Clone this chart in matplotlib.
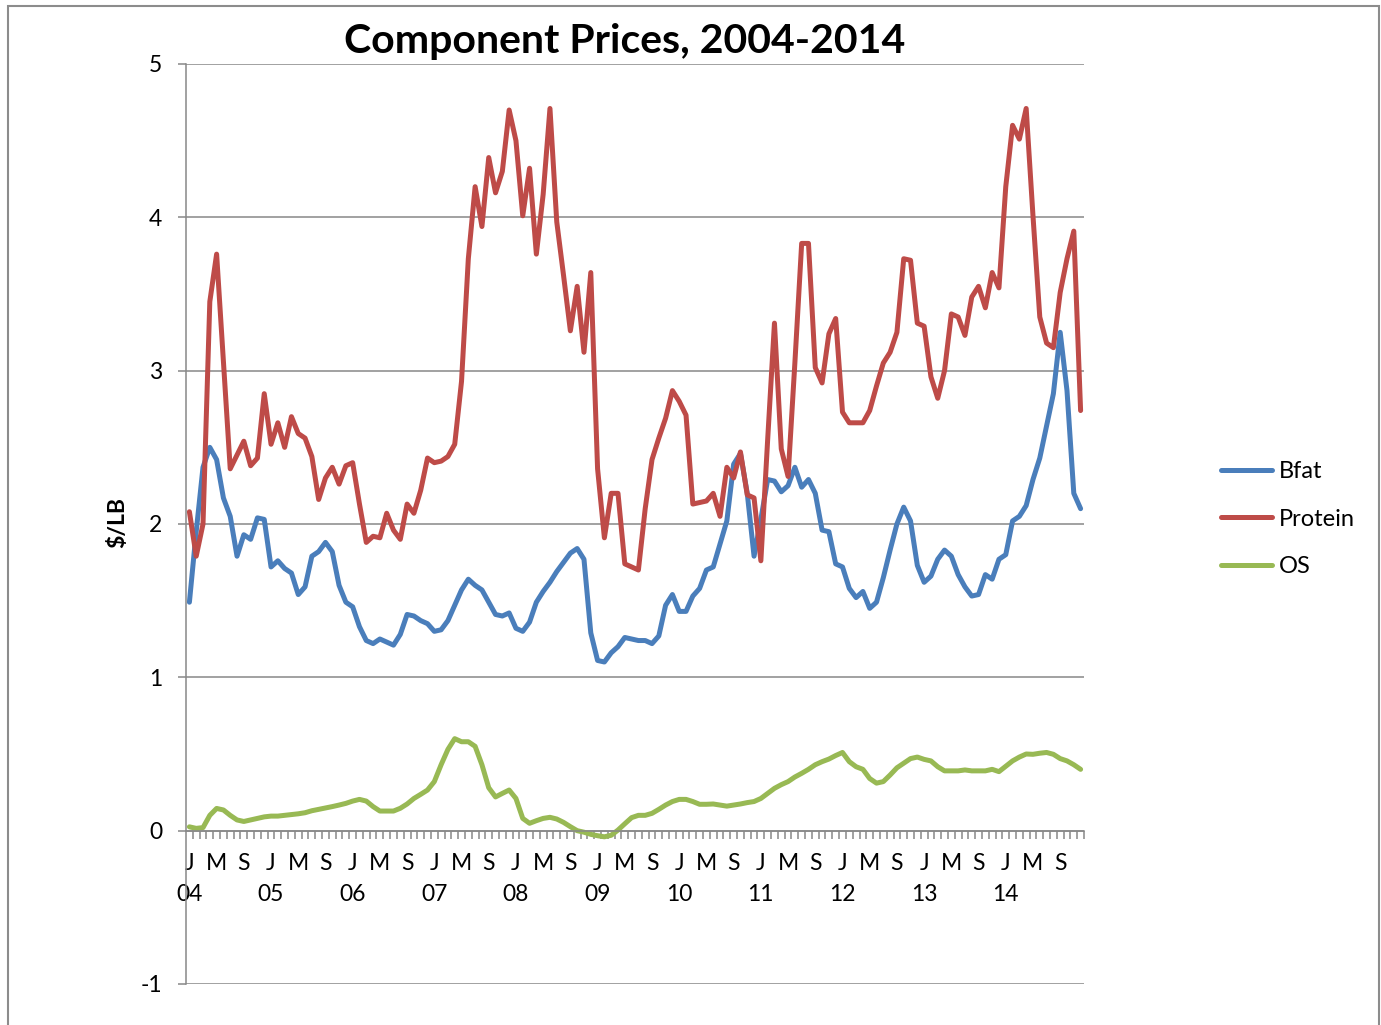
import numpy as np
import matplotlib
matplotlib.use("Agg")
import matplotlib.pyplot as plt
from matplotlib.patches import Rectangle

plt.rcParams['font.family'] = ['Lato', 'DejaVu Sans']
plt.rcParams['axes.unicode_minus'] = False

# ---- data (monthly, Jan 2004 - Dec 2014) ----
years = ["04", "05", "06", "07", "08", "09", "10", "11", "12", "13", "14"]
month_letters = ["J", "M", "S"]

bfat = [
    1.49, 1.95, 2.37, 2.50, 2.42, 2.17, 2.05, 1.79, 1.93, 1.90, 2.04, 2.03,
    1.72, 1.76, 1.71, 1.68, 1.54, 1.59, 1.79, 1.82, 1.88, 1.82, 1.60, 1.49,
    1.46, 1.33, 1.24, 1.22, 1.25, 1.23, 1.21, 1.28, 1.41, 1.40, 1.37, 1.35,
    1.30, 1.31, 1.37, 1.47, 1.57, 1.64, 1.60, 1.57, 1.49, 1.41, 1.40, 1.42,
    1.32, 1.30, 1.36, 1.49, 1.56, 1.62, 1.69, 1.75, 1.81, 1.84, 1.77, 1.29,
    1.11, 1.10, 1.16, 1.20, 1.26, 1.25, 1.24, 1.24, 1.22, 1.27, 1.47, 1.54,
    1.43, 1.43, 1.53, 1.58, 1.70, 1.72, 1.87, 2.02, 2.39, 2.46, 2.20, 1.79,
    2.03, 2.29, 2.28, 2.21, 2.25, 2.37, 2.24, 2.29, 2.20, 1.96, 1.95, 1.74,
    1.72, 1.58, 1.52, 1.56, 1.45, 1.49, 1.65, 1.83, 2.00, 2.11, 2.02, 1.73,
    1.62, 1.66, 1.77, 1.83, 1.79, 1.67, 1.59, 1.53, 1.54, 1.67, 1.64, 1.77,
    1.80, 2.02, 2.05, 2.12, 2.29, 2.43, 2.64, 2.85, 3.25, 2.87, 2.20, 2.10,
]

protein = [
    2.08, 1.79, 2.00, 3.45, 3.76, 3.06, 2.36, 2.45, 2.54, 2.38, 2.43, 2.85,
    2.52, 2.66, 2.50, 2.70, 2.59, 2.56, 2.44, 2.16, 2.30, 2.37, 2.26, 2.38,
    2.40, 2.13, 1.88, 1.92, 1.91, 2.07, 1.96, 1.90, 2.13, 2.07, 2.22, 2.43,
    2.40, 2.41, 2.44, 2.52, 2.93, 3.73, 4.20, 3.94, 4.39, 4.16, 4.30, 4.70,
    4.50, 4.01, 4.32, 3.76, 4.15, 4.71, 3.97, 3.62, 3.26, 3.55, 3.12, 3.64,
    2.36, 1.91, 2.20, 2.20, 1.74, 1.72, 1.70, 2.10, 2.42, 2.56, 2.69, 2.87,
    2.80, 2.71, 2.13, 2.14, 2.15, 2.20, 2.05, 2.37, 2.30, 2.47, 2.19, 2.17,
    1.76, 2.55, 3.31, 2.49, 2.31, 3.05, 3.83, 3.83, 3.02, 2.92, 3.24, 3.34,
    2.73, 2.66, 2.66, 2.66, 2.74, 2.90, 3.05, 3.12, 3.25, 3.73, 3.72, 3.31,
    3.29, 2.96, 2.82, 3.00, 3.37, 3.35, 3.23, 3.48, 3.55, 3.41, 3.64, 3.54,
    4.20, 4.60, 4.51, 4.71, 4.01, 3.35, 3.18, 3.15, 3.51, 3.73, 3.91, 2.74,
]

os_vals = [
    0.025, 0.015, 0.02, 0.10, 0.145, 0.135, 0.10, 0.07, 0.06, 0.07, 0.08, 0.09,
    0.095, 0.095, 0.10, 0.105, 0.11, 0.117, 0.13, 0.139, 0.148, 0.157, 0.167, 0.178,
    0.193, 0.204, 0.193, 0.157, 0.128, 0.128, 0.128, 0.146, 0.174, 0.21, 0.237, 0.265,
    0.32, 0.43, 0.53, 0.60, 0.58, 0.58, 0.55, 0.43, 0.28, 0.22, 0.243, 0.265,
    0.21, 0.08, 0.048, 0.065, 0.08, 0.087, 0.076, 0.054, 0.026, 0.0, -0.01, -0.024,
    -0.033, -0.04, -0.03, 0.004, 0.045, 0.085, 0.10, 0.10, 0.113, 0.139, 0.167, 0.19,
    0.204, 0.204, 0.19, 0.172, 0.172, 0.174, 0.167, 0.16, 0.167, 0.174, 0.183, 0.19,
    0.21, 0.243, 0.276, 0.30, 0.32, 0.35, 0.374, 0.40, 0.43, 0.45, 0.467, 0.49,
    0.51, 0.45, 0.417, 0.40, 0.34, 0.31, 0.32, 0.363, 0.41, 0.44, 0.47, 0.48,
    0.465, 0.455, 0.417, 0.39, 0.39, 0.39, 0.396, 0.39, 0.39, 0.39, 0.40, 0.385,
    0.42, 0.455, 0.48, 0.50, 0.498, 0.505, 0.51, 0.498, 0.47, 0.455, 0.43, 0.40,
]

series_names = ["Bfat", "Protein", "OS"]
series_colors = ["#4A7EBB", "#BE4B48", "#98B954"]

# ---- figure ----
W, H = 1381, 1025
fig = plt.figure(figsize=(W / 100, H / 100), dpi=100)
ax = fig.add_axes([186 / W, 1 - 984 / H, (1084 - 186) / W, (984 - 64) / H])

x = np.arange(len(bfat))
for vals, name, col in zip([bfat, protein, os_vals], series_names, series_colors):
    ax.plot(x, vals, color=col, lw=3.6, label=name, solid_joinstyle='round',
            solid_capstyle='round')

grid_col = "#888888"
ax.set_xlim(-0.5, len(bfat) - 0.5)
ax.set_ylim(-1, 5)
ax.set_yticks(range(-1, 6))
ax.yaxis.grid(True, color=grid_col, lw=1.1)
ax.set_axisbelow(True)

for s in ["top", "right"]:
    ax.spines[s].set_visible(False)
ax.spines["left"].set_color(grid_col)
ax.spines["left"].set_linewidth(1.1)
ax.spines["bottom"].set_position(("data", 0))
ax.spines["bottom"].set_color(grid_col)
ax.spines["bottom"].set_linewidth(1.1)

# x labels: J/M/S every 4 months, year under J
centers = np.arange(0, len(bfat), 4)
labels = []
for k, c in enumerate(centers):
    letter = month_letters[k % 3]
    if letter == "J":
        labels.append("J\n" + years[c // 12])
    else:
        labels.append(letter + "\n ")
ax.set_xticks(centers)
ax.set_xticklabels(labels, linespacing=1.58)
ax.set_xticks(np.arange(0.5, len(bfat) - 0.4, 1), minor=True)
ax.tick_params(axis="x", which="major", length=0, pad=16, labelsize=16.5)
ax.tick_params(axis="x", which="minor", length=6, width=1.1, color=grid_col,
               direction="out")
ax.tick_params(axis="y", which="major", length=6, width=1.1, color=grid_col,
               direction="out", pad=11, labelsize=16.5)

fig.text(118 / W, 1 - 523 / H, r"\$/LB", rotation=90, ha="center", va="center",
         fontsize=16.5, fontweight="bold")
fig.text(625 / W, 1 - 41 / H, "Component Prices, 2004-2014", ha="center",
         va="center", fontsize=29.5, fontweight="bold")

fig.legend(loc="center left", bbox_to_anchor=(1221 / W, 1 - 519 / H),
           frameon=False, fontsize=17, handlelength=2.15, handletextpad=0.3,
           labelspacing=1.12, borderaxespad=0, borderpad=0)

fig.patches.append(Rectangle((8 / W, -0.02), (1379 - 8) / W, (H - 6) / H + 0.02,
                             transform=fig.transFigure, fill=False,
                             edgecolor="#8c8c8c", lw=1.5))

fig.savefig("out.png", dpi=100)
